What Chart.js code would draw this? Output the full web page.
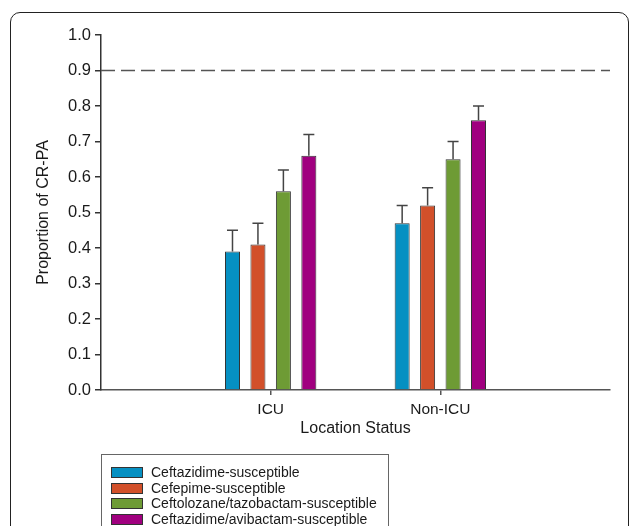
<!DOCTYPE html>
<html>
<head>
<meta charset="utf-8">
<script src="https://cdn.jsdelivr.net/npm/chart.js@4"></script>
<style>
  body { margin: 0; background: #fff; overflow: hidden; }
  #wrap { position: relative; width: 629px; height: 526px; overflow: hidden; }
  #frame { position: absolute; left: 10px; top: 12px; width: 617px; height: 600px;
    border: 1px solid #222; border-radius: 10px; }
  canvas { position: absolute; left: 0; top: 0; }
  #legend { position: absolute; left: 101px; top: 454px; width: 286px; height: 100px;
    border: 1px solid #666; font-family: Arial, "Liberation Sans", sans-serif; font-size: 14px; color: #1a1a1a; }
  .item { position: absolute; left: 9px; height: 16px; line-height: 16px; white-space: nowrap; }
  .sw { display: inline-block; width: 30px; height: 9px; border: 1px solid #333; vertical-align: -1px; margin-right: 8px; }
</style>
</head>
<body>
<div id="wrap">
  <div id="frame"></div>
  <canvas id="chart" width="629" height="526"></canvas>
  <div id="legend"></div>
</div>
<script>
const locations = ["ICU", "Non-ICU"]
const drugs = [
  "Ceftazidime-susceptible",
  "Cefepime-susceptible",
  "Ceftolozane/tazobactam-susceptible",
  "Ceftazidime/avibactam-susceptible",
]
const ceftazidime = [0.39, 0.47]
const cefepime = [0.41, 0.52]
const ceftolozane = [0.56, 0.65]
const avibactam = [0.66, 0.76]
// upper end of the error bars
const ceftazidimeUpper = [0.45, 0.52]
const cefepimeUpper = [0.47, 0.57]
const ceftolozaneUpper = [0.62, 0.70]
const avibactamUpper = [0.72, 0.80]
const referenceLevel = 0.9
const yTicks = [0, 0.1, 0.2, 0.3, 0.4, 0.5, 0.6, 0.7, 0.8, 0.9, 1.0]

const colors = ["#0690c2", "#d2502a", "#6e9b35", "#a0007f"]
const values = [ceftazidime, cefepime, ceftolozane, avibactam]
const uppers = [ceftazidimeUpper, cefepimeUpper, ceftolozaneUpper, avibactamUpper]

const font = "Arial, 'Liberation Sans', sans-serif"

// dashed line at the reference level and the error bars
const extras = {
  id: "extras",
  afterDatasetsDraw(chart) {
    const { ctx, chartArea } = chart
    const y = chart.scales.y
    ctx.save()
    ctx.strokeStyle = "#555"
    ctx.lineWidth = 1.5
    ctx.setLineDash([14, 6])
    const yr = y.getPixelForValue(referenceLevel)
    ctx.beginPath()
    ctx.moveTo(chartArea.left, yr)
    ctx.lineTo(chartArea.right, yr)
    ctx.stroke()
    ctx.setLineDash([])
    ctx.strokeStyle = "#444"
    ctx.lineWidth = 1.5
    chart.data.datasets.forEach((ds, di) => {
      const meta = chart.getDatasetMeta(di)
      meta.data.forEach((bar, i) => {
        const top = y.getPixelForValue(ds.upper[i])
        ctx.beginPath()
        ctx.moveTo(bar.x, bar.y)
        ctx.lineTo(bar.x, top)
        ctx.moveTo(bar.x - 5.5, top)
        ctx.lineTo(bar.x + 5.5, top)
        ctx.stroke()
      })
    })
    ctx.restore()
  },
}

const chart = new Chart(document.getElementById("chart"), {
  type: "bar",
  data: {
    labels: locations,
    datasets: drugs.map((name, i) => ({
      label: name,
      data: values[i],
      upper: uppers[i],
      backgroundColor: colors[i],
      borderColor: "#333",
      borderWidth: 1,
      categoryPercentage: 0.6,
      barPercentage: 0.59,
    })),
  },
  options: {
    responsive: false,
    animation: false,
    layout: { padding: { left: 0, right: 19, top: 35, bottom: 86 } },
    plugins: { legend: { display: false }, tooltip: { enabled: false } },
    scales: {
      x: {
        afterFit: (s) => { s.height = 50 },
        // groups sit at 1/3 and 2/3 of the axis, as in the original
        afterBuildTicks: (s) => { s._startValue = -1; s._valueRange = 3 },
        border: { color: "#555", width: 1.5 },
        grid: { drawOnChartArea: false, offset: false, tickLength: 5, color: "#555", lineWidth: 1.5 },
        ticks: { color: "#1a1a1a", font: { family: font, size: 15.5 }, padding: 5 },
        title: { display: true, text: "Location Status", color: "#1a1a1a", font: { family: font, size: 16 }, padding: { top: 0, bottom: 2 } },
      },
      y: {
        min: 0,
        max: 1,
        afterFit: (s) => { s.width = 101 },
        afterBuildTicks: (s) => { s.ticks = yTicks.map((v) => ({ value: v })) },
        border: { color: "#333", width: 1.5 },
        grid: { drawOnChartArea: false, tickLength: 6, color: "#333", lineWidth: 1.5 },
        ticks: { color: "#1a1a1a", font: { family: font, size: 16.5 }, padding: 4, callback: (v) => Number(v).toFixed(1) },
        title: { display: true, text: "Proportion of CR-PA", color: "#1a1a1a", font: { family: font, size: 16 }, padding: { top: 34, bottom: 0 } },
      },
    },
  },
  plugins: [extras],
})

// legend box under the chart, one item per row
const legendEl = document.getElementById("legend")
Chart.defaults.plugins.legend.labels.generateLabels(chart).forEach((item, i) => {
  const row = document.createElement("div")
  row.className = "item"
  row.style.top = (9 + i * 15.5) + "px"
  row.innerHTML = '<span class="sw" style="background:' + item.fillStyle + '"></span>' + item.text
  legendEl.appendChild(row)
})
</script>
</body>
</html>
